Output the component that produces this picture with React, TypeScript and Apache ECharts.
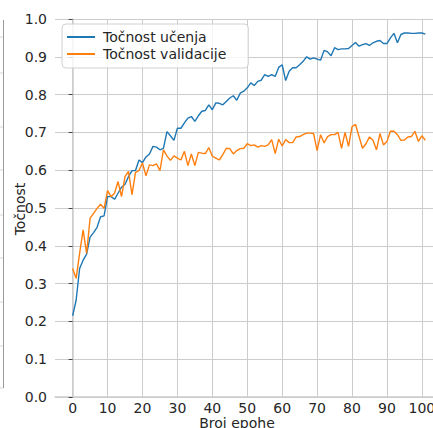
import React, { useEffect, useRef } from "react";
import * as echarts from "echarts";

const trainAcc: number[] = [
  0.215, 0.256, 0.34, 0.362, 0.378, 0.423, 0.435, 0.449, 0.477, 0.479,
  0.53, 0.53, 0.523, 0.539, 0.555, 0.563, 0.583, 0.599, 0.599, 0.627,
  0.62, 0.635, 0.643, 0.663, 0.661, 0.654, 0.658, 0.702, 0.691, 0.679,
  0.711, 0.711, 0.725, 0.738, 0.742, 0.729, 0.744, 0.756, 0.758, 0.773,
  0.76, 0.778, 0.777, 0.773, 0.782, 0.791, 0.797, 0.785, 0.804, 0.809,
  0.818, 0.831, 0.824, 0.835, 0.838, 0.853, 0.848, 0.853, 0.848, 0.872,
  0.879, 0.837, 0.862, 0.871, 0.871, 0.879, 0.888, 0.9, 0.894, 0.897,
  0.894, 0.891, 0.917, 0.913, 0.903, 0.924, 0.919, 0.921, 0.921, 0.922,
  0.93, 0.938, 0.928, 0.932, 0.935, 0.93, 0.937, 0.941, 0.943, 0.935,
  0.935, 0.95, 0.962, 0.937, 0.959, 0.963, 0.963, 0.962, 0.962, 0.963,
  0.963, 0.96,
];

const valAcc: number[] = [
  0.34, 0.314, 0.38, 0.442, 0.38, 0.473, 0.486, 0.499, 0.51, 0.499,
  0.546, 0.53, 0.539, 0.57, 0.53, 0.583, 0.597, 0.535, 0.594, 0.599,
  0.619, 0.585, 0.614, 0.612, 0.617, 0.599, 0.654, 0.638, 0.626, 0.638,
  0.632, 0.627, 0.65, 0.612, 0.643, 0.612, 0.647, 0.645, 0.644, 0.66,
  0.637, 0.632, 0.627, 0.641, 0.658, 0.657, 0.643, 0.652, 0.657, 0.658,
  0.67, 0.665, 0.667, 0.661, 0.665, 0.663, 0.667, 0.681, 0.644, 0.682,
  0.664, 0.681, 0.673, 0.673, 0.688, 0.689, 0.694, 0.698, 0.698, 0.697,
  0.652, 0.694, 0.672, 0.689, 0.694, 0.694, 0.7, 0.658, 0.7, 0.663,
  0.715, 0.721, 0.689, 0.658, 0.67, 0.688, 0.679, 0.654, 0.697, 0.667,
  0.676, 0.703, 0.703, 0.694, 0.679, 0.68, 0.688, 0.689, 0.703, 0.676,
  0.691, 0.679,
];

const xTicks: number[] = [0, 10, 20, 30, 40, 50, 60, 70, 80, 90, 100];
const seriesNames: string[] = ["Točnost učenja", "Točnost validacije"];
const xTitle = "Broj epohe";
const yTitle = "Točnost";

const FONT = "DejaVu Sans";
const TXT = "#262626";

export default function App() {
  const ref = useRef<HTMLDivElement>(null);
  useEffect(() => {
    if (!ref.current) return;
    const chart = echarts.init(ref.current, undefined, { renderer: "svg" });
    const leftTicks = [37, 73, 127, 170, 215, 258, 302, 346, 388];
    chart.setOption({
      animation: false,
      backgroundColor: "#fff",
      textStyle: { fontFamily: FONT },
      grid: { left: 55, top: 19, right: 2, bottom: 31, containLabel: false },
      legend: {
        orient: "vertical",
        left: 62,
        top: 24,
        padding: [5, 22, 6, 5],
        itemWidth: 28,
        itemHeight: 2,
        itemGap: 1,
        icon: "rect",
        backgroundColor: "rgba(255,255,255,0.8)",
        borderColor: "#d0d0d0",
        borderWidth: 1,
        borderRadius: 4,
        textStyle: { fontFamily: FONT, fontSize: 14, color: TXT, lineHeight: 16, padding: [0, 0, 0, 3] },
        data: seriesNames,
      },
      xAxis: {
        type: "value",
        min: -5.05,
        max: 106.05,
        axisLine: { show: true, onZero: false, lineStyle: { color: "#cccccc", width: 1.5 } },
        axisTick: { show: false, customValues: xTicks },
        axisLabel: {
          customValues: xTicks,
          margin: 4,
          fontFamily: FONT,
          fontSize: 14,
          color: TXT,
        },
        splitLine: { show: true, lineStyle: { color: "#cccccc", width: 1 } },
      },
      yAxis: {
        type: "value",
        min: 0,
        max: 1,
        interval: 0.1,
        axisLine: { show: true, lineStyle: { color: "#cccccc", width: 1.5 } },
        axisTick: { show: true, length: 4, lineStyle: { color: "#444", width: 1 } },
        axisLabel: {
          margin: 8,
          fontFamily: FONT,
          fontSize: 14,
          color: TXT,
          formatter: (v: number) => v.toFixed(1),
        },
        splitLine: { show: true, lineStyle: { color: "#cccccc", width: 1 } },
      },
      series: [
        {
          name: seriesNames[0],
          type: "line",
          showSymbol: false,
          symbol: "none",
          color: "#1f77b4",
          lineStyle: { width: 1.4, color: "#1f77b4" },
          data: trainAcc.map((v, i) => [i, v]),
        },
        {
          name: seriesNames[1],
          type: "line",
          showSymbol: false,
          symbol: "none",
          color: "#ff7f0e",
          lineStyle: { width: 1.4, color: "#ff7f0e" },
          data: valAcc.map((v, i) => [i, v]),
        },
      ],
      graphic: [
        {
          type: "text",
          x: 20,
          y: 209,
          rotation: Math.PI / 2,
          style: {
            text: yTitle,
            fontFamily: FONT,
            fontSize: 14,
            fill: TXT,
            textAlign: "center",
            textVerticalAlign: "middle",
          },
        },
        {
          type: "text",
          x: 237,
          y: 423,
          style: {
            text: xTitle,
            fontFamily: FONT,
            fontSize: 14,
            fill: TXT,
            textAlign: "center",
            textVerticalAlign: "middle",
          },
        },
        {
          type: "line",
          shape: { x1: 3.5, y1: 20, x2: 3.5, y2: 388 },
          style: { stroke: "#9a9a9a", lineWidth: 1 },
        },
        ...leftTicks.map((y) => ({
          type: "line",
          shape: { x1: 0, y1: y, x2: 3, y2: y },
          style: { stroke: "#d5d5d5", lineWidth: 1 },
        })),
      ],
    });
    return () => chart.dispose();
  }, []);
  return (
    <div
      ref={ref}
      style={{ position: "fixed", left: 0, top: 0, width: 445, height: 428 }}
    />
  );
}
